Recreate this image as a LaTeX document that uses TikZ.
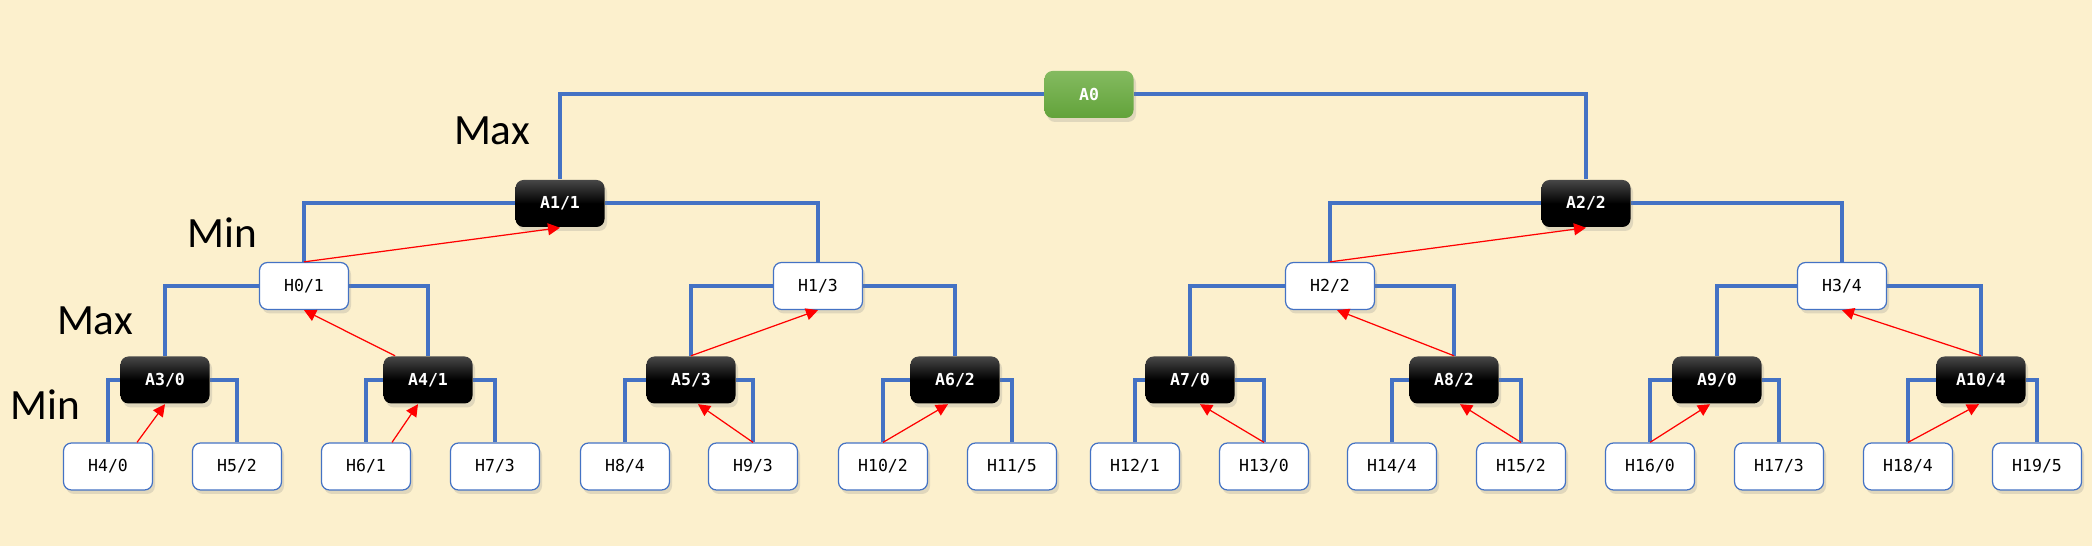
\documentclass[tikz,border=0pt]{standalone}
\usepackage{fontspec}
\setmonofont{DejaVu Sans Mono}
\newfontfamily\levelfont{Carlito}
\usepackage{tikz}
\usetikzlibrary{arrows.meta,shadows,backgrounds}
\usepackage{xcolor}
\definecolor{TreePaper}{HTML}{FCF0CD}
\definecolor{TreeBlue}{HTML}{4472C4}
\definecolor{TreeRed}{HTML}{FF0000}
\definecolor{TreeGreenTop}{HTML}{84BA60}
\definecolor{TreeGreenBot}{HTML}{62A33A}

\tikzset{
  treebox/.style={rounded corners=0.8mm,minimum width=8.9mm,minimum height=4.7mm,inner sep=0pt,
    drop shadow={opacity=0.22,shadow xshift=0.25mm,shadow yshift=-0.4mm}},
  rootbox/.style={treebox,top color=TreeGreenTop,bottom color=TreeGreenBot,text=white,
    font=\ttfamily\bfseries\fontsize{4.7pt}{5.5pt}\selectfont},
  maxbox/.style={treebox,top color=black!72,bottom color=black,middle color=black,text=white,
    font=\ttfamily\bfseries\fontsize{4.7pt}{5.5pt}\selectfont},
  minbox/.style={treebox,fill=white,draw=TreeBlue,line width=0.35pt,
    font=\ttfamily\fontsize{4.7pt}{5.5pt}\selectfont},
  branch/.style={TreeBlue,line width=0.4mm},
  backup/.style={-{Triangle[length=1.2mm,width=1.2mm]},TreeRed,line width=0.35pt},
  levellabel/.style={inner sep=0pt,font=\levelfont\fontsize{12.3pt}{14pt}\selectfont}
}

\begin{document}
\begin{tikzpicture}[x=0.1mm,y=-0.1mm]
  % level 0 and 1
  \node[rootbox] (A0) at (1089,94.5) {A0};
  \node[maxbox] (A1) at (560,203.5) {A1/1};
  \node[maxbox] (A2) at (1586,203.5) {A2/2};
  % level 2
  \node[minbox] (H0) at (304,286) {H0/1};
  \node[minbox] (H1) at (818,286) {H1/3};
  \node[minbox] (H2) at (1330,286) {H2/2};
  \node[minbox] (H3) at (1842,286) {H3/4};
  % level 3
  \foreach \n/\x/\v in {3/165/0,4/428/1,5/691/3,6/955/2,7/1190/0,8/1454/2,9/1717/0,10/1981/4}
    \node[maxbox] (A\n) at (\x,380) {A\n/\v};
  % leaves
  \foreach \n/\x/\v in {4/108/0,5/237/2,6/366/1,7/495/3,8/625/4,9/753/3,10/883/2,11/1012/5,
      12/1135/1,13/1264/0,14/1392/4,15/1521/2,16/1650/0,17/1779/3,18/1908/4,19/2037/5}
    \node[minbox] (H\n) at (\x,466.5) {H\n/\v};

  \node[levellabel] (max1) at (492,131) {Max};
  \node[levellabel] (min1) at (222,233) {Min};
  \node[levellabel] (max2) at (95,321) {Max};
  \node[levellabel] (min2) at (45,405) {Min};

  \begin{scope}[on background layer]
    \fill[TreePaper] (0,0) rectangle (2092,546);
    \foreach \p/\l/\r in {A0/A1/A2,A1/H0/H1,A2/H2/H3,H0/A3/A4,H1/A5/A6,H2/A7/A8,H3/A9/A10,
        A3/H4/H5,A4/H6/H7,A5/H8/H9,A6/H10/H11,A7/H12/H13,A8/H14/H15,A9/H16/H17,A10/H18/H19}{
      \draw[branch] (\p.west) -| (\l.north);
      \draw[branch] (\p.east) -| (\r.north);
    }
  \end{scope}

  % values backed up
  \draw[backup] (H0.north) -- (A1.south);
  \draw[backup] (H2.north) -- (A2.south);
  \draw[backup] ([xshift=-3.3mm]A4.north) -- (H0.south);
  \draw[backup] (A5.north) -- (H1.south);
  \draw[backup] (A8.north) -- ([xshift=0.7mm]H2.south);
  \draw[backup] (A10.north) -- (H3.south);
  \draw[backup] ([xshift=2.9mm]H4.north) -- (A3.south);
  \draw[backup] ([xshift=2.6mm]H6.north) -- ([xshift=-1mm]A4.south);
  \draw[backup] (H9.north) -- ([xshift=0.7mm]A5.south);
  \draw[backup] (H10.north) -- ([xshift=-0.7mm]A6.south);
  \draw[backup] (H13.north) -- ([xshift=1mm]A7.south);
  \draw[backup] (H15.north) -- ([xshift=0.6mm]A8.south);
  \draw[backup] (H16.north) -- ([xshift=-0.7mm]A9.south);
  \draw[backup] (H18.north) -- ([xshift=-0.2mm]A10.south);
\end{tikzpicture}
\end{document}
